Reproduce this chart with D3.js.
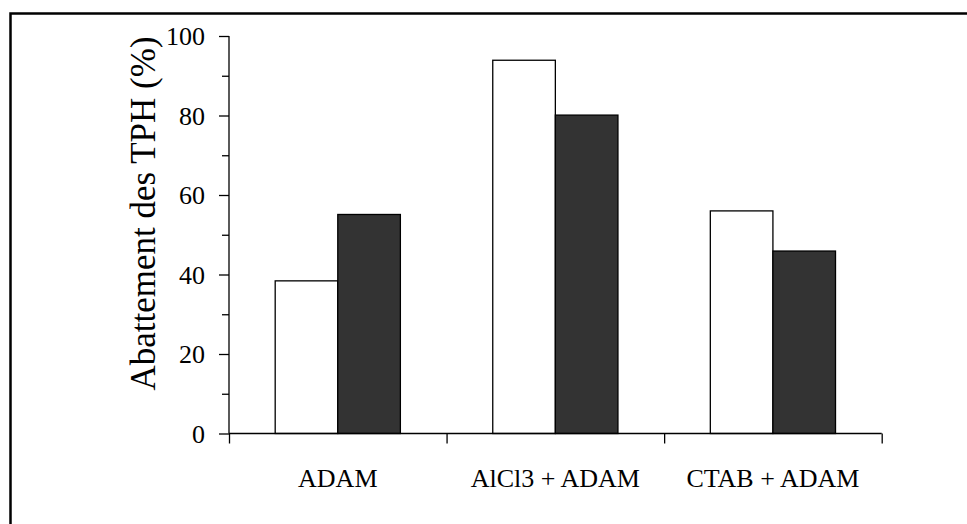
<!DOCTYPE html>
<html>
<head>
<meta charset="utf-8">
<script src="https://cdn.jsdelivr.net/npm/d3@7"></script>
<style>
  html, body { margin: 0; padding: 0; background: #fff; }
  svg { display: block; }
  text { font-family: "Liberation Serif", "Times New Roman", serif; fill: #000; }
</style>
</head>
<body>
<svg id="chart" width="967" height="524"></svg>
<script>
const categories = ["ADAM", "AlCl3 + ADAM", "CTAB + ADAM"];
const seriesNames = ["Série 1", "Série 2"];
const series1 = [38.4, 93.9, 56.0];
const series2 = [55.1, 80.1, 45.9];
const seriesColors = ["#ffffff", "#333333"];
const yMajorTicks = [0, 20, 40, 60, 80, 100];
const yMinorTicks = [10, 30, 50, 70, 90];
const yLabel = "Abattement des TPH (%)";

(function () {
const svg = d3.select("#chart");

// outer frame (extends beyond right and bottom of view)
svg.append("rect")
  .attr("x", 10.5).attr("y", 13.5)
  .attr("width", 1000).attr("height", 600)
  .attr("fill", "none").attr("stroke", "#000").attr("stroke-width", 2.5);

const pLeft = 229, pRight = 881.7, pTop = 36, pBottom = 433.5;

const x = d3.scaleBand().domain(categories).range([pLeft, pRight]).padding(0);
const x1 = d3.scaleBand().domain(seriesNames).range([0, x.bandwidth()])
  .paddingInner(0).paddingOuter(0.738);
const y = d3.scaleLinear().domain([0, 100]).range([pBottom, pTop]);

const data = categories.map((c, i) => ({ cat: c, values: [series1[i], series2[i]] }));

// bars
const groups = svg.append("g").selectAll("g").data(data).join("g")
  .attr("transform", d => `translate(${x(d.cat)},0)`);
groups.selectAll("rect")
  .data(d => d.values.map((v, j) => ({ name: seriesNames[j], v, j })))
  .join("rect")
  .attr("x", d => x1(d.name))
  .attr("y", d => y(d.v))
  .attr("width", x1.bandwidth())
  .attr("height", d => y(0) - y(d.v))
  .attr("fill", d => seriesColors[d.j])
  .attr("stroke", "#000")
  .attr("stroke-width", 1.3);

// y axis
const yAxis = d3.axisLeft(y).tickValues(yMajorTicks).tickSize(10).tickPadding(14)
  .tickFormat(d3.format("d"));
const gy = svg.append("g").attr("transform", `translate(${pLeft},0)`).call(yAxis);
gy.select(".domain").attr("stroke", "#000").attr("stroke-width", 1.3)
  .attr("d", `M0,${pTop}V${pBottom}`);
gy.selectAll(".tick line").attr("stroke", "#000").attr("stroke-width", 1.3);
gy.selectAll(".tick text").attr("font-size", 26).attr("font-family", "Liberation Serif")
  .attr("dy", "0.34em");
const yMinor = d3.axisLeft(y).tickValues(yMinorTicks).tickSize(7).tickFormat("");
const gym = svg.append("g").attr("transform", `translate(${pLeft},0)`).call(yMinor);
gym.select(".domain").remove();
gym.selectAll(".tick line").attr("stroke", "#000").attr("stroke-width", 1.3);

// x axis: ticks at category boundaries
const boundaries = [x.range()[0]].concat(categories.map(c => x(c) + x.bandwidth()));
const xb = d3.scaleLinear().domain([pLeft, pRight]).range([pLeft, pRight]);
const gx = svg.append("g").attr("transform", `translate(0,${pBottom})`)
  .call(d3.axisBottom(xb).tickValues(boundaries).tickSize(10).tickFormat(""));
gx.select(".domain").attr("stroke", "#000").attr("stroke-width", 1.3)
  .attr("d", `M${pLeft},0H${pRight}`);
gx.selectAll(".tick line").attr("stroke", "#000").attr("stroke-width", 1.3);

// category labels
svg.append("g").selectAll("text").data(categories).join("text")
  .attr("x", d => x(d) + x.bandwidth() / 2)
  .attr("y", 486.5)
  .attr("text-anchor", "middle")
  .attr("font-size", 26)
  .text(d => d);

// y label
svg.append("text")
  .attr("transform", `translate(155,${(34 + 393) / 2}) rotate(-90)`)
  .attr("text-anchor", "middle")
  .attr("font-size", 35)
  .text(yLabel);
})();
</script>
</body>
</html>
